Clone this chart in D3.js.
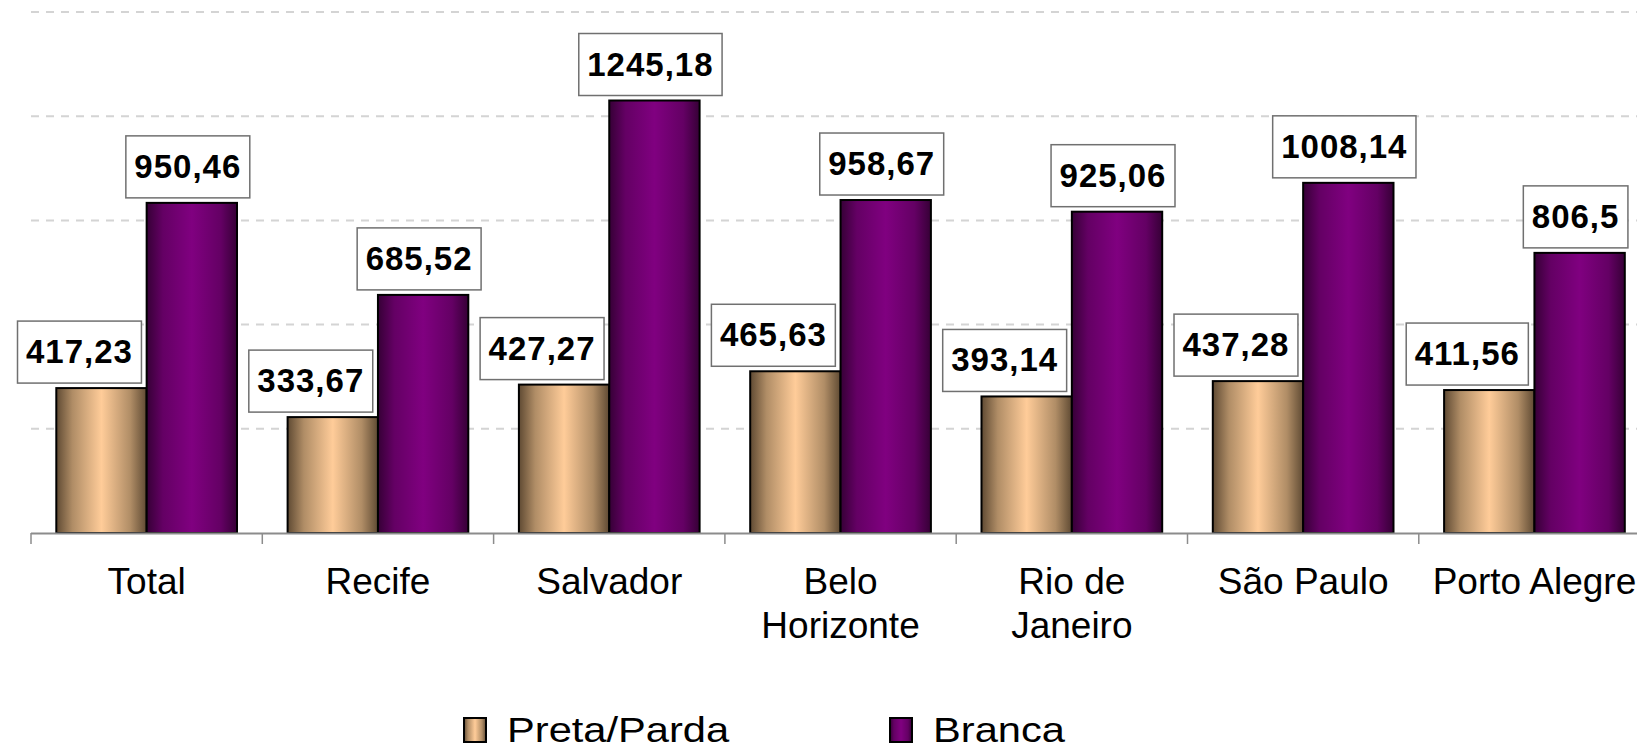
<!DOCTYPE html>
<html>
<head>
<meta charset="utf-8">
<script src="https://cdn.jsdelivr.net/npm/d3@7"></script>
<style>
  body { margin:0; background:#fff; }
  svg { display:block; font-family: Arial, "Liberation Sans", sans-serif; }
  .grid line { stroke:#d4d4d4; stroke-width:2px; stroke-dasharray:8,7; }
  .xaxis text { font-size:37px; fill:#000; }
  .vlabel text { font-size:33px; font-weight:bold; letter-spacing:1px; fill:#000; }
  .legend text { font-size:35px; fill:#000; }
</style>
</head>
<body>
<div class="chart"></div>
<script>
document.addEventListener("DOMContentLoaded", function(event) {

  var categories=["Total","Recife","Salvador","Belo\nHorizonte","Rio de\nJaneiro","São Paulo","Porto Alegre"];
  var seriesNames=["Preta/Parda","Branca"];
  var pretaParda=[417.23, 333.67, 427.27, 465.63, 393.14, 437.28, 411.56];
  var branca=[950.46, 685.52, 1245.18, 958.67, 925.06, 1008.14, 806.5];
  var yTicks=[300, 600, 900, 1200, 1500];

  var W=1637, H=747;
  var left=31, step=231.3;
  var base=533, top=12;

  var rows=categories.map(function(c,i){
    return {cat:c, values:[
      {series:seriesNames[0], value:pretaParda[i]},
      {series:seriesNames[1], value:branca[i]}
    ]};
  });

  var x0=d3.scaleBand()
          .domain(categories)
          .range([left, left+step*categories.length])
          .padding(0);
  var x1=d3.scaleBand()
          .domain(seriesNames)
          .range([0, x0.bandwidth()])
          .paddingInner(0)
          .paddingOuter(0.28);
  var yScale=d3.scaleLinear()
          .domain([0,1500])
          .range([base,top]);

  var svg=d3.select(".chart").append("svg")
            .attr("width", W)
            .attr("height", H);

  var defs=svg.append("defs");
  function gradient(id, edge, mid, peak){
    var g=defs.append("linearGradient")
              .attr("id", id)
              .attr("x1","0%").attr("x2","100%")
              .attr("y1","0%").attr("y2","0%");
    [[0,edge],[0.18,mid],[0.5,peak],[0.82,mid],[1,edge]].forEach(function(s){
      g.append("stop").attr("offset", s[0]).attr("stop-color", s[1]);
    });
  }
  gradient("gPreta", "#5f4a33", "#b08d66", "#ffcc99");
  gradient("gBranca", "#360036", "#640064", "#800080");
  var fillOf={"Preta/Parda":"url(#gPreta)", "Branca":"url(#gBranca)"};
  var labelShift={"Preta/Parda":-22, "Branca":-4};

  //gridlines
  svg.append("g")
     .attr("class","grid")
     .selectAll("line")
     .data(yTicks)
     .enter()
     .append("line")
     .attr("x1", left)
     .attr("x2", W)
     .attr("y1", function(d){ return yScale(d); })
     .attr("y2", function(d){ return yScale(d); });

  //bars
  var groups=svg.append("g")
     .selectAll(".cat")
     .data(rows)
     .enter()
     .append("g")
     .attr("class","cat")
     .attr("transform", function(d){ return "translate("+x0(d.cat)+",0)"; });

  groups.selectAll("rect")
     .data(function(d){ return d.values; })
     .enter()
     .append("rect")
     .attr("x", function(d){ return x1(d.series); })
     .attr("y", function(d){ return yScale(d.value); })
     .attr("width", x1.bandwidth())
     .attr("height", function(d){ return base-yScale(d.value); })
     .attr("fill", function(d){ return fillOf[d.series]; })
     .attr("stroke", "#000")
     .attr("stroke-width", 2);

  //axis line and ticks at the band edges
  var axis=svg.append("g").attr("class","xaxis");
  axis.append("line")
      .attr("x1", left).attr("x2", W)
      .attr("y1", base+0.5).attr("y2", base+0.5)
      .attr("stroke", "#8c8c8c")
      .attr("stroke-width", 2);
  axis.selectAll(".tick")
      .data(categories)
      .enter()
      .append("line")
      .attr("x1", function(d){ return x0(d); })
      .attr("x2", function(d){ return x0(d); })
      .attr("y1", base)
      .attr("y2", base+11)
      .attr("stroke", "#8c8c8c")
      .attr("stroke-width", 1.5);
  axis.selectAll("text")
      .data(categories)
      .enter()
      .append("text")
      .attr("text-anchor","middle")
      .attr("x", function(d){ return x0(d)+x0.bandwidth()/2; })
      .attr("y", 594)
      .each(function(d){
        var lines=d.split("\n");
        var t=d3.select(this);
        lines.forEach(function(l,i){
          t.append("tspan")
           .attr("x", x0(d)+x0.bandwidth()/2)
           .attr("dy", i==0 ? 0 : 43.5)
           .text(l);
        });
      });

  //value labels in boxes
  var labels=groups.selectAll(".vlabel")
     .data(function(d){ return d.values; })
     .enter()
     .append("g")
     .attr("class","vlabel");

  labels.each(function(d){
    var g=d3.select(this);
    var cx=x1(d.series)+x1.bandwidth()/2+labelShift[d.series];
    var bottom=yScale(d.value)-5;
    var boxH=62;
    var rect=g.append("rect");
    var txt=g.append("text")
             .attr("text-anchor","middle")
             .attr("x", cx)
             .attr("y", bottom-boxH/2+11)
             .text(String(d.value).replace(".", ","));
    var bw=txt.node().getComputedTextLength()+17;
    rect.attr("x", cx-bw/2)
        .attr("y", bottom-boxH)
        .attr("width", bw)
        .attr("height", boxH)
        .attr("fill","#fff")
        .attr("stroke","#707070")
        .attr("stroke-width",1.5);
  });

  //legend
  var legendX=[464, 890];
  var legend=svg.append("g").attr("class","legend");
  var item=legend.selectAll(".item")
     .data(seriesNames)
     .enter()
     .append("g")
     .attr("class","item")
     .attr("transform", function(d,i){ return "translate("+legendX[i]+",718)"; });
  item.append("rect")
      .attr("width", 22)
      .attr("height", 24)
      .attr("fill", function(d){ return fillOf[d]; })
      .attr("stroke", "#000")
      .attr("stroke-width", 2);
  item.append("text")
      .attr("transform", "translate(43,24) scale(1.19,1)")
      .text(function(d){ return d; });

});
</script>
</body>
</html>
